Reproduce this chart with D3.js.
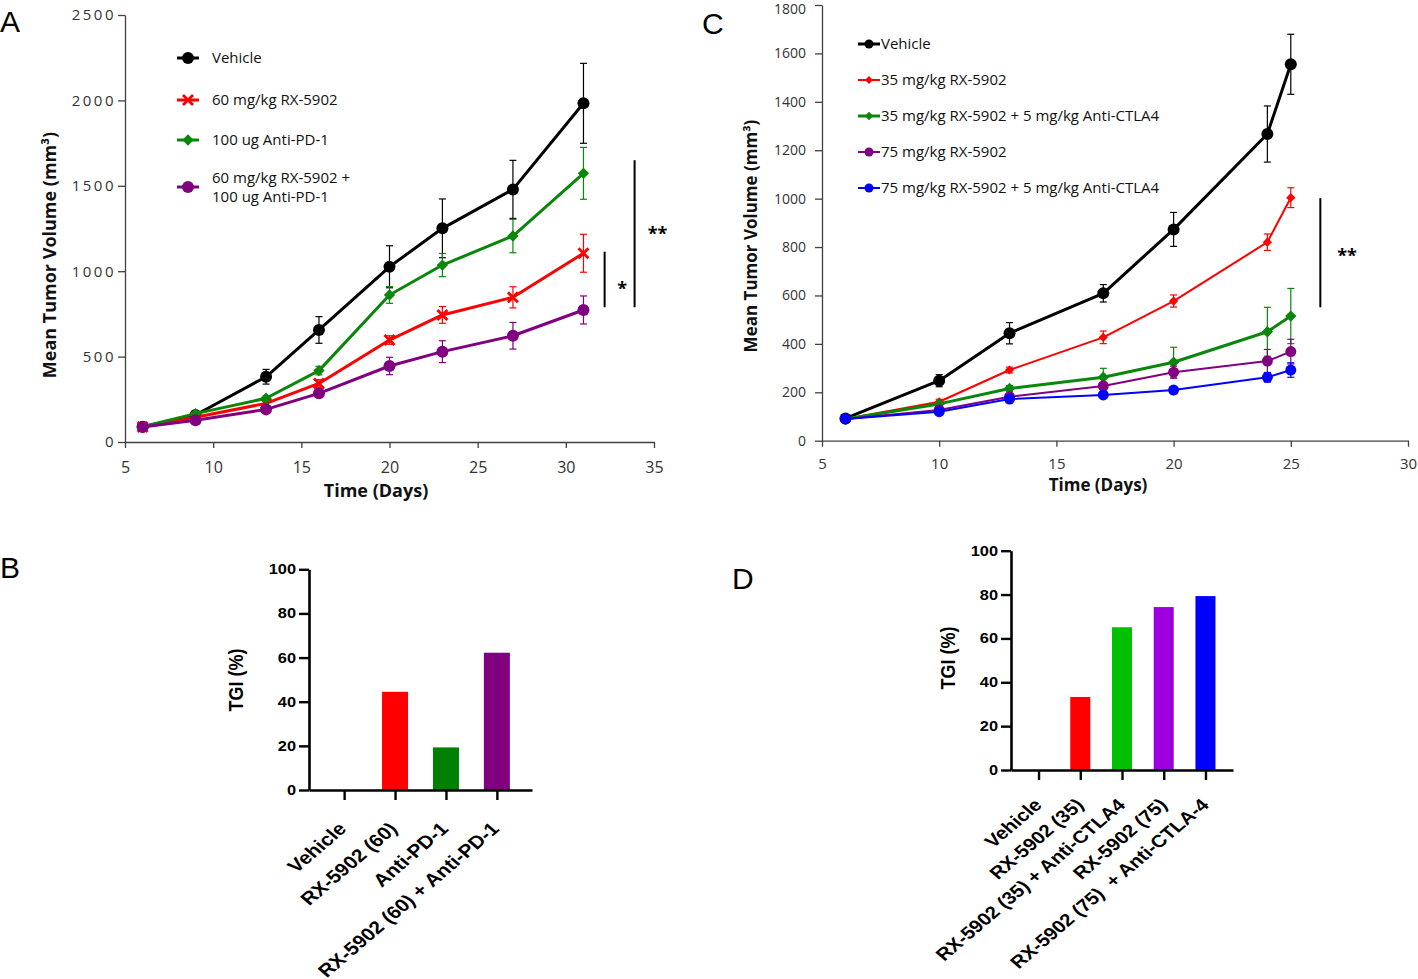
<!DOCTYPE html>
<html>
<head>
<meta charset="utf-8">
<script src="https://cdn.jsdelivr.net/npm/d3@7"></script>
<style>
  body { margin: 0; background: #fff; }
  svg { display: block; }
</style>
</head>
<body>
<div id="figura"></div>
<script>
// panel A: volumen tumoral medio, anti-PD-1
var diasA = [6, 9, 13, 16, 20, 23, 27, 31];
var vehiculoA = [90, 158, 382, 656, 1026, 1251, 1479, 1983];
var errVehiculoA = [10, 12, 43, 78, 123, 172, 170, 234];
var rx60A = [88, 145, 226, 343, 597, 744, 847, 1105];
var errRx60A = [8, 10, 15, 22, 25, 49, 62, 111];
var pd1A = [90, 166, 256, 418, 861, 1036, 1206, 1573];
var errPd1A = [8, 10, 15, 25, 49, 68, 98, 152];
var comboA = [88, 127, 191, 285, 445, 529, 622, 773];
var errComboA = [8, 10, 15, 20, 51, 64, 78, 82];
var nombresA = ["Vehicle", "60 mg/kg RX-5902", "100 ug Anti-PD-1", ["60 mg/kg RX-5902 +", "100 ug Anti-PD-1"]];
var ticksYA = [0, 500, 1000, 1500, 2000, 2500];
var ticksXA = [5, 10, 15, 20, 25, 30, 35];

// panel C: volumen tumoral medio, anti-CTLA4
var diasC = [6, 10, 13, 17, 20, 24, 25];
var vehiculoC = [92, 248, 444, 609, 873, 1267, 1555];
var errVehiculoC = [8, 25, 44, 36, 70, 116, 124];
var rx35C = [90, 161, 292, 427, 577, 820, 1004];
var errRx35C = [6, 10, 12, 26, 25, 34, 41];
var combo35C = [90, 152, 216, 262, 324, 450, 515];
var errCombo35C = [6, 10, 12, 37, 62, 101, 114];
var rx75C = [90, 127, 182, 226, 283, 329, 368];
var errRx75C = [6, 10, 12, 15, 25, 48, 51];
var combo75C = [90, 120, 172, 189, 209, 262, 292];
var errCombo75C = [6, 8, 10, 10, 12, 20, 30];
var nombresC = ["Vehicle", "35 mg/kg RX-5902", "35 mg/kg RX-5902 + 5 mg/kg Anti-CTLA4", "75 mg/kg RX-5902", "75 mg/kg RX-5902 + 5 mg/kg Anti-CTLA4"];
var ticksYC = [0, 200, 400, 600, 800, 1000, 1200, 1400, 1600, 1800];
var ticksXC = [5, 10, 15, 20, 25, 30];

// paneles B y D: TGI (%)
var gruposB = ["Vehicle", "RX-5902 (60)", "Anti-PD-1", "RX-5902 (60) + Anti-PD-1"];
var tgiB = [0, 44.5, 19.3, 62.2];
var gruposD = ["Vehicle", "RX-5902 (35)", "RX-5902 (35) + Anti-CTLA4", "RX-5902 (75)", "RX-5902 (75)  + Anti-CTLA-4"];
var tgiD = [0, 33.3, 65.1, 74.3, 79.3];
var ticksTGI = [0, 20, 40, 60, 80, 100];

// barras de significancia (en unidades de datos)
var sigA = [
  { dia: 32.2, desde: 789, hasta: 1114, texto: "*", diaTexto: 33.2, yTexto: 925 },
  { dia: 33.9, desde: 789, hasta: 1650, texto: "**", diaTexto: 35.2, yTexto: 1245 }
];
var sigC = [
  { dia: 26.26, desde: 551, hasta: 1002, texto: "**", diaTexto: 27.4, yTexto: 782 }
];

var NEGRO = "#000000";
var ROJO = "#ff0000";
var VERDE = "#0a860a";
var MORADO = "#800080";
var AZUL = "#0000ff";
var GRIS_EJE = "#404040";
var FUENTE_AC = "'Open Sans', 'DejaVu Sans', sans-serif";
var FUENTE_BD = "'Liberation Sans', Arial, sans-serif";
var ESTIRA = 1.17; // la figura original viene estirada a lo ancho

var svg = d3.select("#figura").append("svg")
  .attr("width", 1418).attr("height", 979)
  .style("background", "#fff");

function armarSerie(dias, valores, errores) {
  return dias.map(function (d, i) { return { dia: d, v: valores[i], e: errores[i] }; });
}

function dibujarMarca(g, tipo, cx, cy, color, tam) {
  if (tipo === "equis") {
    g.append("path")
      .attr("d", "M" + (cx - tam) + "," + (cy - tam) + "L" + (cx + tam) + "," + (cy + tam) +
        "M" + (cx - tam) + "," + (cy + tam) + "L" + (cx + tam) + "," + (cy - tam))
      .attr("stroke", color).attr("stroke-width", 2.8).attr("fill", "none");
  } else if (tipo === "diamante") {
    g.append("path")
      .attr("d", d3.symbol().type(d3.symbolSquare).size(tam * tam)())
      .attr("transform", "translate(" + cx + "," + cy + ") rotate(45)")
      .attr("fill", color);
  } else {
    g.append("circle").attr("cx", cx).attr("cy", cy).attr("r", tam).attr("fill", color);
  }
}

function panelLineas(cfg) {
  var g = svg.append("g");
  var x = d3.scaleLinear().domain(cfg.xDom).range(cfg.xRango);
  var y = d3.scaleLinear().domain(cfg.yDom).range(cfg.yRango);

  var ejeY = g.append("g")
    .attr("transform", "translate(" + cfg.xRango[0] + ",0)")
    .call(d3.axisLeft(y).tickValues(cfg.ticksY).tickFormat(d3.format("d"))
      .tickSize(7).tickSizeOuter(0).tickPadding(cfg.padY));
  var ejeX = g.append("g")
    .attr("transform", "translate(0," + cfg.yRango[0] + ")")
    .call(d3.axisBottom(x).tickValues(cfg.ticksX).tickFormat(d3.format("d"))
      .tickSize(6).tickSizeOuter(0).tickPadding(cfg.padX));

  [ejeY, ejeX].forEach(function (eje) {
    eje.select(".domain").attr("stroke", GRIS_EJE).attr("stroke-width", 1.3);
    eje.selectAll(".tick line").attr("stroke", GRIS_EJE).attr("stroke-width", 1.3);
    eje.selectAll(".tick text").attr("fill", "#333").style("font-family", FUENTE_AC);
  });
  ejeY.selectAll(".tick text").style("font-size", cfg.tamY + "px").style("letter-spacing", cfg.espY + "px");
  ejeX.selectAll(".tick text").style("font-size", cfg.tamX + "px");
  // la etiqueta de arriba queda pegada al borde, la bajamos un poquito
  ejeY.selectAll(".tick text").filter(function (d) { return d === cfg.yDom[1]; })
    .attr("dy", cfg.dyArriba || "0.32em");

  // titulos de ejes
  g.append("text")
    .attr("x", cfg.tituloX[0]).attr("y", cfg.tituloX[1])
    .attr("text-anchor", "middle")
    .style("font-family", FUENTE_AC).style("font-weight", "bold").style("font-size", cfg.tamTitulo + "px")
    .attr("fill", "#111")
    .text("Time (Days)");
  g.append("text")
    .attr("transform", "translate(" + cfg.tituloY[0] + "," + cfg.tituloY[1] + ") rotate(-90)")
    .attr("text-anchor", "middle")
    .style("font-family", FUENTE_AC).style("font-weight", "bold").style("font-size", cfg.tamTitulo + "px")
    .attr("fill", "#111")
    .text("Mean Tumor Volume (mm\u00b3)");

  var linea = d3.line().x(function (d) { return x(d.dia); }).y(function (d) { return y(d.v); });

  cfg.series.forEach(function (s) {
    var gs = g.append("g");
    var datos = armarSerie(cfg.dias, s.valores, s.errores);
    // barras de error primero, asi la linea y la marca quedan encima
    datos.forEach(function (d) {
      var cx = x(d.dia);
      gs.append("line").attr("x1", cx).attr("x2", cx)
        .attr("y1", y(d.v - d.e)).attr("y2", y(d.v + d.e))
        .attr("stroke", s.color).attr("stroke-width", 1.2);
      [d.v - d.e, d.v + d.e].forEach(function (v) {
        gs.append("line").attr("x1", cx - 3.5).attr("x2", cx + 3.5)
          .attr("y1", y(v)).attr("y2", y(v))
          .attr("stroke", s.color).attr("stroke-width", 1.2);
      });
    });
    gs.append("path").datum(datos).attr("d", linea)
      .attr("fill", "none").attr("stroke", s.color).attr("stroke-width", s.grosor)
      .attr("stroke-linejoin", "round");
    datos.forEach(function (d) {
      dibujarMarca(gs, s.marca, x(d.dia), y(d.v), s.color, s.tam);
    });
  });

  // leyenda
  var ley = g.append("g");
  cfg.series.forEach(function (s, i) {
    var fy = cfg.leyenda.filas[i];
    ley.append("line")
      .attr("x1", cfg.leyenda.x0).attr("x2", cfg.leyenda.x1)
      .attr("y1", fy).attr("y2", fy)
      .attr("stroke", s.color).attr("stroke-width", s.grosor);
    dibujarMarca(ley, s.marca, (cfg.leyenda.x0 + cfg.leyenda.x1) / 2, fy, s.color, s.tamLey || s.tam);
    var lineas = Array.isArray(s.nombre) ? s.nombre : [s.nombre];
    var t = ley.append("text")
      .attr("x", cfg.leyenda.xt).attr("y", fy)
      .style("font-family", FUENTE_AC).style("font-size", cfg.leyenda.tam + "px")
      .attr("fill", "#111");
    lineas.forEach(function (l, j) {
      t.append("tspan").attr("x", cfg.leyenda.xt)
        .attr("dy", j === 0 ? (lineas.length > 1 ? "-0.3em" : "0.35em") : "1.3em")
        .text(l);
    });
  });

  // significancia
  cfg.sig.forEach(function (s) {
    g.append("line")
      .attr("x1", x(s.dia)).attr("x2", x(s.dia))
      .attr("y1", y(s.desde)).attr("y2", y(s.hasta))
      .attr("stroke", "#000").attr("stroke-width", 2);
    g.append("text")
      .attr("x", x(s.diaTexto)).attr("y", y(s.yTexto))
      .attr("text-anchor", "middle").attr("dy", "0.6em")
      .style("font-family", FUENTE_AC).style("font-weight", "bold").style("font-size", "18px")
      .text(s.texto);
  });
}

function panelBarras(cfg) {
  var g = svg.append("g");
  var x = d3.scalePoint().domain(cfg.grupos).range(cfg.xRango).padding(cfg.relleno);
  var y = d3.scaleLinear().domain([0, 100]).range(cfg.yRango);

  g.selectAll("rect.barra")
    .data(cfg.grupos.map(function (n, i) { return { nombre: n, v: cfg.valores[i], color: cfg.colores[i] }; }))
    .enter().append("rect").attr("class", "barra")
    .attr("x", function (d) { return x(d.nombre) - cfg.anchoBarra / 2; })
    .attr("y", function (d) { return y(d.v); })
    .attr("width", cfg.anchoBarra)
    .attr("height", function (d) { return y(0) - y(d.v); })
    .attr("fill", function (d) { return d.color; });

  var ejeY = g.append("g")
    .attr("transform", "translate(" + cfg.xRango[0] + ",0)")
    .call(d3.axisLeft(y).tickValues(ticksTGI).tickSize(10).tickSizeOuter(0).tickPadding(3));
  var ejeX = g.append("g")
    .attr("transform", "translate(0," + cfg.yRango[0] + ")")
    .call(d3.axisBottom(x).tickSize(10).tickSizeOuter(0));

  [ejeY, ejeX].forEach(function (eje) {
    eje.select(".domain").attr("stroke", "#000").attr("stroke-width", 2.6);
    eje.selectAll(".tick line").attr("stroke", "#000").attr("stroke-width", 2.4);
    eje.selectAll(".tick text").attr("fill", "#000")
      .style("font-family", FUENTE_BD).style("font-weight", "bold");
  });
  ejeY.selectAll(".tick text")
    .style("font-size", "14px")
    .attr("x", -13 / ESTIRA)
    .attr("transform", "scale(" + ESTIRA + ",1)");
  ejeX.selectAll(".tick text")
    .style("font-size", cfg.tamEtiq + "px")
    .style("white-space", "pre")
    .attr("x", 0).attr("y", 0).attr("dy", 0)
    .attr("text-anchor", "end")
    .attr("transform", "translate(" + cfg.desplaz[0] + "," + cfg.desplaz[1] + ") scale(" + ESTIRA + ",1) rotate(-45)");

  g.append("text")
    .attr("transform", "translate(" + cfg.tituloY[0] + "," + cfg.tituloY[1] + ") scale(" + ESTIRA + ",1) rotate(-90)")
    .attr("text-anchor", "middle")
    .style("font-family", FUENTE_BD).style("font-weight", "bold").style("font-size", "18px")
    .text("TGI (%)");
}

function letraPanel(letra, px, py) {
  svg.append("text").attr("x", px).attr("y", py)
    .style("font-family", FUENTE_BD).style("font-size", "30px")
    .text(letra);
}

panelLineas({
  xDom: [5, 35], xRango: [125, 654],
  yDom: [0, 2500], yRango: [442, 15],
  ticksX: ticksXA, ticksY: ticksYA,
  padY: 2, padX: 14, tamY: 15, espY: 2.5, tamX: 16,
  tamTitulo: 18, tituloX: [376, 497], tituloY: [56, 255],
  dias: diasA,
  series: [
    { nombre: nombresA[0], valores: vehiculoA, errores: errVehiculoA, color: NEGRO, grosor: 3, marca: "circulo", tam: 6 },
    { nombre: nombresA[1], valores: rx60A, errores: errRx60A, color: ROJO, grosor: 3, marca: "equis", tam: 5 },
    { nombre: nombresA[2], valores: pd1A, errores: errPd1A, color: VERDE, grosor: 3, marca: "diamante", tam: 8 },
    { nombre: nombresA[3], valores: comboA, errores: errComboA, color: MORADO, grosor: 3, marca: "circulo", tam: 6 }
  ],
  leyenda: { x0: 177, x1: 199, xt: 212, tam: 15, filas: [58, 100, 140, 187] },
  sig: sigA
});

panelLineas({
  xDom: [5, 30], xRango: [822, 1408],
  yDom: [0, 1800], yRango: [440.7, 5],
  ticksX: ticksXC, ticksY: ticksYC,
  padY: 9, padX: 12, tamY: 14, espY: 0, tamX: 15,
  tamTitulo: 17, tituloX: [1098, 491], tituloY: [757, 236],
  dyArriba: "0.6em",
  dias: diasC,
  series: [
    { nombre: nombresC[0], valores: vehiculoC, errores: errVehiculoC, color: NEGRO, grosor: 3, marca: "circulo", tam: 6, tamLey: 4.5 },
    { nombre: nombresC[1], valores: rx35C, errores: errRx35C, color: ROJO, grosor: 2, marca: "diamante", tam: 6.5, tamLey: 5.5 },
    { nombre: nombresC[2], valores: combo35C, errores: errCombo35C, color: VERDE, grosor: 3, marca: "diamante", tam: 8, tamLey: 6 },
    { nombre: nombresC[3], valores: rx75C, errores: errRx75C, color: MORADO, grosor: 2, marca: "circulo", tam: 5.5, tamLey: 4.5 },
    { nombre: nombresC[4], valores: combo75C, errores: errCombo75C, color: AZUL, grosor: 2, marca: "circulo", tam: 5.5, tamLey: 4.5 }
  ],
  leyenda: { x0: 858, x1: 880, xt: 881, tam: 15, filas: [44, 80, 116, 152, 188] },
  sig: sigC
});

panelBarras({
  grupos: gruposB, valores: tgiB,
  colores: [ROJO, ROJO, "#008000", "#800080"],
  xRango: [309, 532], relleno: 0.69,
  yRango: [790, 569.3],
  anchoBarra: 26,
  tamEtiq: 18,
  desplaz: [3, 40],
  tituloY: [243, 680]
});

panelBarras({
  grupos: gruposD, valores: tgiD,
  colores: [ROJO, ROJO, "#00c000", "#9d00e0", AZUL],
  xRango: [1011, 1233], relleno: 0.66,
  yRango: [770, 550.7],
  anchoBarra: 20,
  tamEtiq: 17.5,
  desplaz: [4, 36],
  tituloY: [955, 658]
});

letraPanel("A", 0, 32);
letraPanel("B", 0, 578);
letraPanel("C", 702, 34);
letraPanel("D", 732, 589);
</script>
</body>
</html>
